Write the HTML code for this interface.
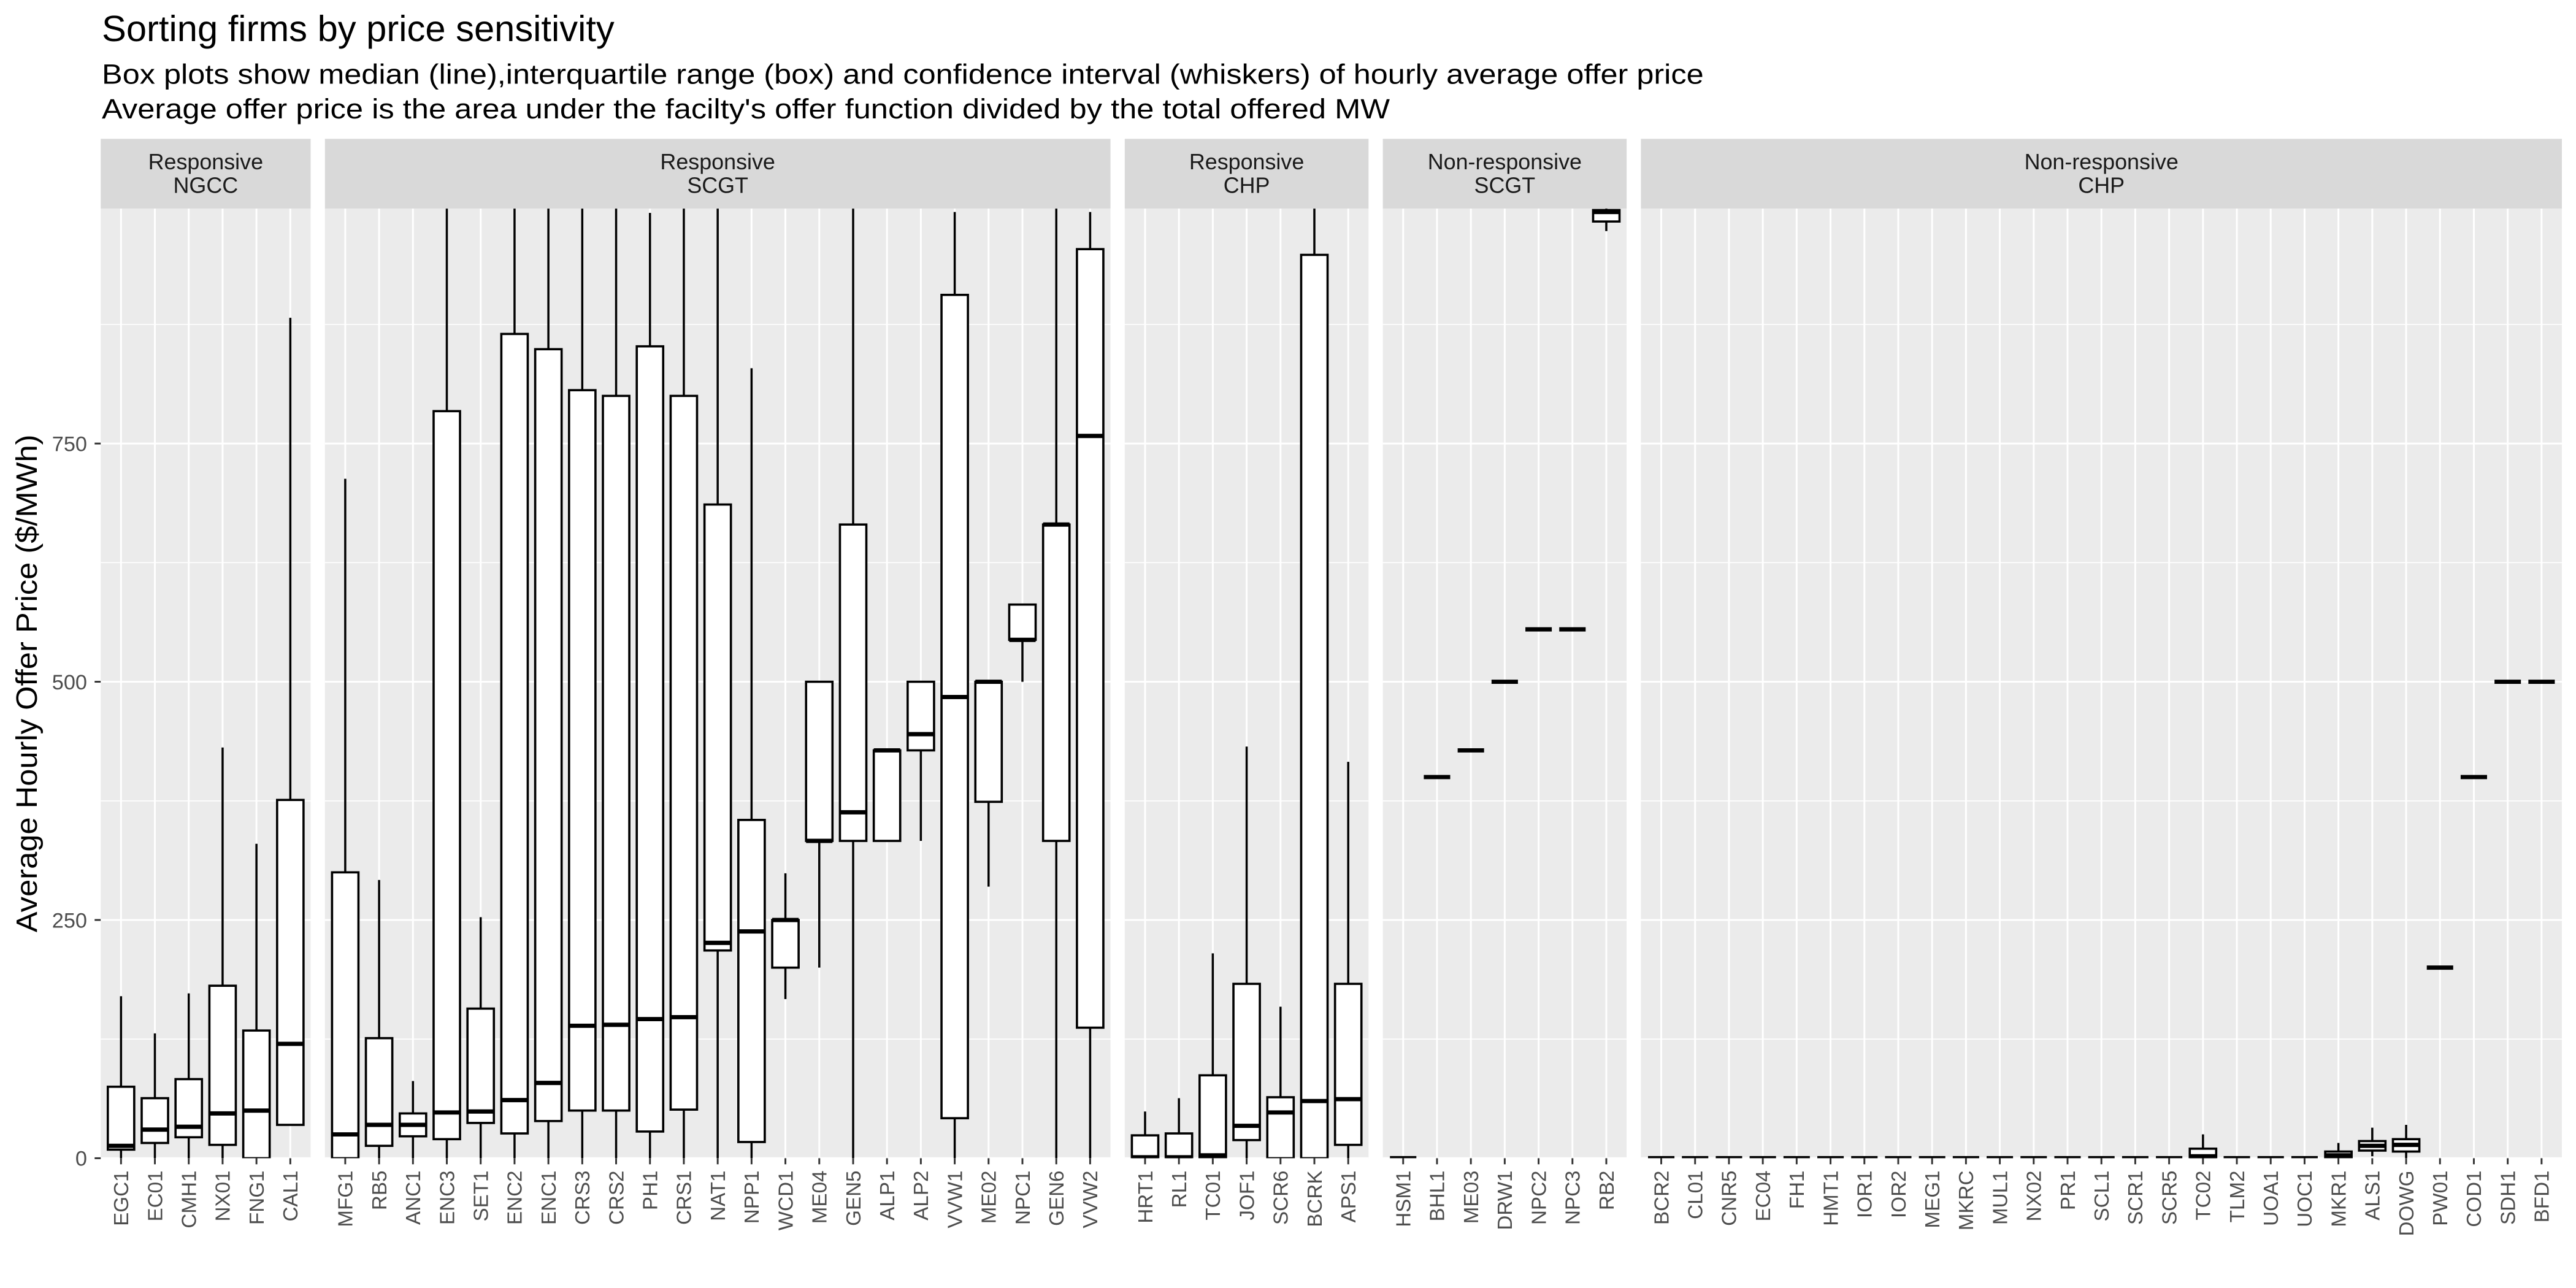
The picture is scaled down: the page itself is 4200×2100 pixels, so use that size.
<!DOCTYPE html>
<html><head><meta charset="utf-8">
<style>
html,body{margin:0;padding:0;background:#fff;}
svg{display:block;}
text{font-family:"Liberation Sans",Arial,sans-serif;}
</style></head>
<body>
<svg id="chart" xmlns="http://www.w3.org/2000/svg" width="4200" height="2100" viewBox="0 0 1568 784">
<rect x="0" y="0" width="1568" height="784" fill="#fff"/>
<text x="62" y="25" font-size="22" fill="#000" textLength="312" lengthAdjust="spacingAndGlyphs">Sorting firms by price sensitivity</text>
<text x="62" y="51" font-size="17" fill="#000" textLength="975" lengthAdjust="spacingAndGlyphs">Box plots show median (line),interquartile range (box) and confidence interval (whiskers) of hourly average offer price</text>
<text x="62" y="72" font-size="17" fill="#000" textLength="784" lengthAdjust="spacingAndGlyphs">Average offer price is the area under the facilty's offer function divided by the total offered MW</text>
<text transform="translate(22.4,416) rotate(-90)" text-anchor="middle" font-size="18" fill="#000" textLength="303" lengthAdjust="spacingAndGlyphs">Average Hourly Offer Price ($/MWh)</text>
<defs id="defs"></defs>
<g id="panels"></g>
</svg>
<script>
const panelLine1 = ["Responsive","Responsive","Responsive","Non-responsive","Non-responsive"];
const panelLine2 = ["NGCC","SCGT","CHP","SCGT","CHP"];
const panelCats = [
 ["EGC1","EC01","CMH1","NX01","FNG1","CAL1"],
 ["MFG1","RB5","ANC1","ENC3","SET1","ENC2","ENC1","CRS3","CRS2","PH1","CRS1","NAT1","NPP1","WCD1","ME04","GEN5","ALP1","ALP2","VVW1","ME02","NPC1","GEN6","VVW2"],
 ["HRT1","RL1","TC01","JOF1","SCR6","BCRK","APS1"],
 ["HSM1","BHL1","ME03","DRW1","NPC2","NPC3","RB2"],
 ["BCR2","CL01","CNR5","EC04","FH1","HMT1","IOR1","IOR2","MEG1","MKRC","MUL1","NX02","PR1","SCL1","SCR1","SCR5","TC02","TLM2","UOA1","UOC1","MKR1","ALS1","DOWG","PW01","COD1","SDH1","BFD1"]
];
// per-panel stats: lower whisker, q1, median, q3, upper whisker
const lowVals = [
 [0,0,0,0,0,35],
 [0,0,0,0,0,0,0,0,0,0,0,0,0,167,200,0,333,333,0,285,500,0,0],
 [0,0,0,0,0,0,0],
 [0,400,428,500,555,555,973],
 [0,0,0,0,0,0,0,0,0,0,0,0,0,0,0,0,0,0,0,0,0,2,0,200,400,500,500]
];
const q1Vals = [
 [9,16,22,14,0,35],
 [0,13,23,20,37,26,39,50,50,28,51,218,17,200,333,333,333,428,42,374,544,333,137],
 [0,0,0,19,0,0,14],
 [0,400,428,500,555,555,983],
 [0,0,0,0,0,0,0,0,0,0,0,0,0,0,0,0,1,0,0,0,0,8,7,200,400,500,500]
];
const medVals = [
 [13,30,33,47,50,120],
 [25,35,35,48,49,61,79,139,140,146,148,226,238,250,333,363,428,445,484,500,544,665,758],
 [1,1,3,34,48,60,62],
 [0,400,428,500,555,555,993],
 [0,0,0,0,0,0,0,0,0,0,0,0,0,0,0,0,2,0,0,0,3,13,14,200,400,500,500]
];
const q3Vals = [
 [75,63,83,181,134,376],
 [300,126,47,784,157,865,849,806,800,852,800,686,355,250,500,665,428,500,906,500,581,665,954],
 [24,26,87,183,64,948,183],
 [0,400,428,500,555,555,995],
 [0,0,0,0,0,0,0,0,0,0,0,0,0,0,0,0,10,0,0,0,7,18,20,200,400,500,500]
];
const highVals = [
 [170,131,173,431,330,882],
 [713,292,81,1000,253,1000,1000,1000,1000,992,1000,1000,829,299,500,1000,428,500,993,500,581,1000,993],
 [49,63,215,432,159,1000,416],
 [0,400,428,500,555,555,1000],
 [0,0,0,0,0,0,0,0,0,0,0,0,0,0,0,0,25,0,0,0,16,32,35,200,400,500,500]
];
const yMajorTicks = [0,250,500,750];
const yTickLabels = ["0","250","500","750"];
const yMinorTicks = [125,375,625,875];

const NS = "http://www.w3.org/2000/svg";
const svg = document.getElementById("chart");
const panelsG = document.getElementById("panels");
const defs = document.getElementById("defs");
const PANEL_TOP = 127, PANEL_BOTTOM = 705, Y_MAX = 996.5;
const STRIP_TOP = 84.5;
const X0 = 61.3, UNIT = 20.61, GAP = 8.7;
function yScale(v){ return PANEL_BOTTOM - v/Y_MAX*(PANEL_BOTTOM-PANEL_TOP); }
function mk(tag, attrs, parent){
  const el = document.createElementNS(NS, tag);
  for (const k in attrs) el.setAttribute(k, attrs[k]);
  parent.appendChild(el);
  return el;
}
yMajorTicks.forEach((t,i)=>{
  const tk = mk("line",{x1:57.6,x2:61.3,y1:yScale(t),y2:yScale(t),stroke:"#333",'stroke-width':1.1},svg);
  
  
  const lb = mk("text",{x:53,y:yScale(t)+4.6,'text-anchor':'end','font-size':12.8,fill:'#4d4d4d'},svg);
  lb.textContent = yTickLabels[i];
  
  
});
let px = X0;
panelCats.forEach((cats,p)=>{
  const w = (cats.length+0.2)*UNIT;
  const g = mk("g",{},panelsG);
  
  
  const strip = mk("rect",{x:px,y:STRIP_TOP,width:w,height:PANEL_TOP-STRIP_TOP,fill:"#d9d9d9"},g);
  
  
  const s1 = mk("text",{x:px+w/2,y:103,'text-anchor':'middle','font-size':13.4,fill:'#1a1a1a'},g);
  s1.textContent = panelLine1[p];
  
  
  const s2 = mk("text",{x:px+w/2,y:117.5,'text-anchor':'middle','font-size':13.4,fill:'#1a1a1a'},g);
  s2.textContent = panelLine2[p];
  
  
  const bg = mk("rect",{x:px,y:PANEL_TOP,width:w,height:PANEL_BOTTOM-PANEL_TOP,fill:"#ebebeb"},g);
  
  
  yMinorTicks.forEach(t=>{
    const l = mk("line",{x1:px,x2:px+w,y1:yScale(t),y2:yScale(t),stroke:"#fff",'stroke-width':0.6},g);
    
    
  });
  yMajorTicks.forEach(t=>{
    const l = mk("line",{x1:px,x2:px+w,y1:yScale(t),y2:yScale(t),stroke:"#fff",'stroke-width':1.1},g);
    
    
  });
  const cp = mk("clipPath",{id:"clip"+p},defs);
  mk("rect",{x:px,y:PANEL_TOP,width:w,height:PANEL_BOTTOM-PANEL_TOP},cp);
  const xs = cats.map((c,i)=> px + (0.6+i)*UNIT);
  xs.forEach(x=>{
    const l = mk("line",{x1:x,x2:x,y1:PANEL_TOP,y2:PANEL_BOTTOM,stroke:"#fff",'stroke-width':1.1},g);
    
    
  });
  const marks = mk("g",{'clip-path':'url(#clip'+p+')'},g);
  
  
  const bw = 0.78*UNIT;
  cats.forEach((c,i)=>{
    const x = xs[i];
    const bx = mk("g",{},marks);
    
    
    const wu = mk("line",{x1:x,x2:x,y1:yScale(q3Vals[p][i]),y2:yScale(highVals[p][i]),stroke:"#000",'stroke-width':1.3},bx);
    
    
    const wl = mk("line",{x1:x,x2:x,y1:yScale(q1Vals[p][i]),y2:yScale(lowVals[p][i]),stroke:"#000",'stroke-width':1.3},bx);
    
    
    const top = yScale(q3Vals[p][i]), bot = yScale(q1Vals[p][i]);
    const r = mk("rect",{x:x-bw/2,y:top,width:bw,height:Math.max(0,bot-top),fill:"#fff",stroke:"#000",'stroke-width':1.35},bx);
    
    
    const m = mk("line",{x1:x-bw/2,x2:x+bw/2,y1:yScale(medVals[p][i]),y2:yScale(medVals[p][i]),stroke:"#000",'stroke-width':2.6},bx);
    
    
    const tk = mk("line",{x1:x,x2:x,y1:PANEL_BOTTOM,y2:PANEL_BOTTOM+3.7,stroke:"#333",'stroke-width':1.1},g);
    
    
    const lb = mk("text",{transform:'translate('+(x+4.4)+','+(PANEL_BOTTOM+7.5)+') rotate(-90)','text-anchor':'end','font-size':12.4,fill:'#4d4d4d'},g);
    lb.textContent = c;
    
    
  });
  px += w + GAP;
});
</script>
</body></html>
